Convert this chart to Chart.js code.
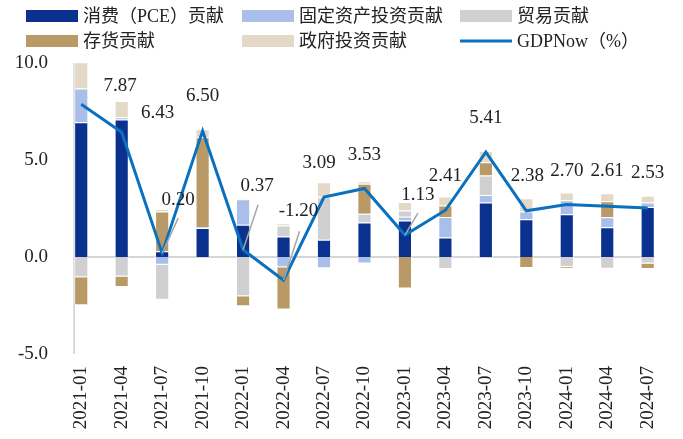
<!DOCTYPE html>
<html>
<head>
<meta charset="utf-8">
<script src="https://cdn.jsdelivr.net/npm/chart.js@4.4.1/dist/chart.umd.min.js"></script>
<style>
  html, body { margin: 0; padding: 0; background: #ffffff; }
  #wrap { width: 683px; height: 439px; position: relative; }
</style>
</head>
<body>
<div id="wrap"><canvas id="gdpChart"></canvas></div>
<script>
const categories = ['2021-01', '2021-04', '2021-07', '2021-10', '2022-01', '2022-04', '2022-07', '2022-10',
    '2023-01', '2023-04', '2023-07', '2023-10', '2024-01', '2024-04', '2024-07'];

const pce = [6.94, 7.09, 0.30, 1.49, 1.66, 1.06, 0.89, 1.78, 1.88, 1.01, 2.81, 1.95, 2.20, 1.53, 2.58];
const fixedInvest = [1.75, 0.12, -0.40, 0.05, 1.32, -0.53, -0.58, -0.33, 0.19, 1.05, 0.39, 0.40, 0.72, 0.52, 0.23];
const trade = [-1.05, -1.00, -1.80, 0, -2.02, 0.56, 2.19, 0.45, 0.33, -0.62, 1.00, 0, -0.51, -0.60, -0.34];
const inventory = [-1.44, -0.54, 2.04, 4.63, -0.52, -2.18, 0.05, 1.54, -1.63, 0.59, 0.68, -0.57, -0.09, 0.82, -0.28];
const govInvest = [1.35, 0.83, 0.14, 0.42, 0.05, 0.12, 0.72, 0.14, 0.44, 0.47, 0.59, 0.68, 0.41, 0.41, 0.35];
const gdpNow = [7.87, 6.43, 0.20, 6.50, 0.37, -1.20, 3.09, 3.53, 1.13, 2.41, 5.41, 2.38, 2.70, 2.61, 2.53];

const yTicks = [-5, 0, 5, 10];

// label placement (pixels, relative to the line point) and leader lines
const labelOffsets = [[39, -18], [36, -19], [16, -53], [0, -35], [14, -64], [15, -69], [-5, -34], [0, -34],
    [13, -40], [0, -34], [0, -34], [1, -35], [0, -34], [0, -35], [0, -35]];
const leaders = { 2: [16, -35], 4: [15, -45], 5: [16, -49], 8: [13, -22] };

const serif = '"Liberation Serif", "Noto Sans CJK SC", serif';
const textColor = '#222222';

function barSet(label, data, color) {
    return {
        type: 'bar',
        label: label,
        data: data,
        backgroundColor: color,
        borderColor: 'rgba(255,255,255,0.55)',
        borderWidth: 1,
        stack: 's',
        order: 2,
        barPercentage: 0.35,
        categoryPercentage: 1.0
    };
}

const axisLines = {
    id: 'axisLines',
    beforeDatasetsDraw(chart) {
        const ctx = chart.ctx;
        const bars = chart.getDatasetMeta(0).data;
        const first = bars[0];
        const last = bars[bars.length - 1];
        const left = first.x - first.width / 2;
        const right = last.x + last.width / 2;
        const y0 = chart.scales.y.getPixelForValue(0);
        ctx.save();
        ctx.strokeStyle = '#cfcfcf';
        ctx.lineWidth = 1.5;
        ctx.beginPath();
        ctx.moveTo(left, chart.chartArea.top);
        ctx.lineTo(left, chart.chartArea.bottom);
        ctx.stroke();
        ctx.strokeStyle = '#d6d6d6';
        ctx.lineWidth = 2;
        ctx.beginPath();
        ctx.moveTo(left, y0);
        ctx.lineTo(right, y0);
        ctx.stroke();
        ctx.restore();
    }
};

const valueLabels = {
    id: 'valueLabels',
    afterDatasetsDraw(chart) {
        const ctx = chart.ctx;
        const idx = chart.data.datasets.length - 1;
        const pts = chart.getDatasetMeta(idx).data;
        ctx.save();
        ctx.font = '19px ' + serif;
        ctx.fillStyle = textColor;
        ctx.textAlign = 'center';
        ctx.textBaseline = 'middle';
        pts.forEach((p, i) => {
            const lead = leaders[i];
            if (lead) {
                ctx.strokeStyle = '#a6a6a6';
                ctx.lineWidth = 1.5;
                ctx.beginPath();
                ctx.moveTo(p.x, p.y);
                ctx.lineTo(p.x + lead[0], p.y + lead[1]);
                ctx.stroke();
            }
            const off = labelOffsets[i];
            ctx.fillText(gdpNow[i].toFixed(2), p.x + off[0], p.y + off[1]);
        });
        ctx.restore();
    }
};

const gridLegend = {
    id: 'gridLegend',
    afterDraw(chart) {
        const ctx = chart.ctx;
        const cols = [26, 242, 460];
        const rows = [16, 41];
        ctx.save();
        ctx.font = '18px ' + serif;
        ctx.textBaseline = 'middle';
        ctx.textAlign = 'left';
        chart.data.datasets.forEach((ds, i) => {
            const x = cols[i % 3];
            const y = rows[Math.floor(i / 3)];
            if (ds.type === 'line') {
                ctx.strokeStyle = ds.borderColor;
                ctx.lineWidth = 3;
                ctx.beginPath();
                ctx.moveTo(x, y);
                ctx.lineTo(x + 52, y);
                ctx.stroke();
            } else {
                ctx.fillStyle = ds.backgroundColor;
                ctx.fillRect(x, y - 6, 52, 12);
            }
            ctx.fillStyle = textColor;
            ctx.fillText(ds.label, x + 57, y + 1);
        });
        ctx.restore();
    }
};

document.addEventListener('DOMContentLoaded', function() {
    const ctx = document.getElementById('gdpChart');
    new Chart(ctx, {
        data: {
            labels: categories,
            datasets: [
                barSet('消费（PCE）贡献', pce, '#0b318f'),
                barSet('固定资产投资贡献', fixedInvest, '#a9bee8'),
                barSet('贸易贡献', trade, '#d0cfd1'),
                barSet('存货贡献', inventory, '#b99966'),
                barSet('政府投资贡献', govInvest, '#e4d9c6'),
                {
                    type: 'line',
                    label: 'GDPNow（%）',
                    data: gdpNow,
                    borderColor: '#0a71c0',
                    backgroundColor: '#0a71c0',
                    borderWidth: 3,
                    pointRadius: 0,
                    tension: 0,
                    order: 0
                }
            ]
        },
        options: {
            responsive: true,
            maintainAspectRatio: false,
            animation: false,
            layout: { padding: { top: 63, right: 15, left: 0, bottom: 0 } },
            plugins: {
                legend: { display: false },
                tooltip: { enabled: false }
            },
            scales: {
                x: {
                    stacked: true,
                    grid: { display: false, drawTicks: false },
                    border: { display: false },
                    ticks: {
                        color: textColor,
                        font: { family: serif, size: 19 },
                        minRotation: 90,
                        maxRotation: 90,
                        padding: 12,
                        autoSkip: false
                    },
                    afterFit(scale) { scale.height = 85; }
                },
                y: {
                    stacked: true,
                    min: -5,
                    max: 10,
                    grid: { display: false, drawTicks: false },
                    border: { display: false },
                    afterBuildTicks(scale) {
                        scale.ticks = yTicks.map(v => ({ value: v }));
                    },
                    ticks: {
                        color: textColor,
                        font: { family: serif, size: 19 },
                        padding: 13,
                        callback: function(value) {
                            return value.toFixed(1);
                        }
                    },
                    afterFit(scale) { scale.width = 61; }
                }
            }
        },
        plugins: [axisLines, valueLabels, gridLegend]
    });
});
</script>
</body>
</html>
